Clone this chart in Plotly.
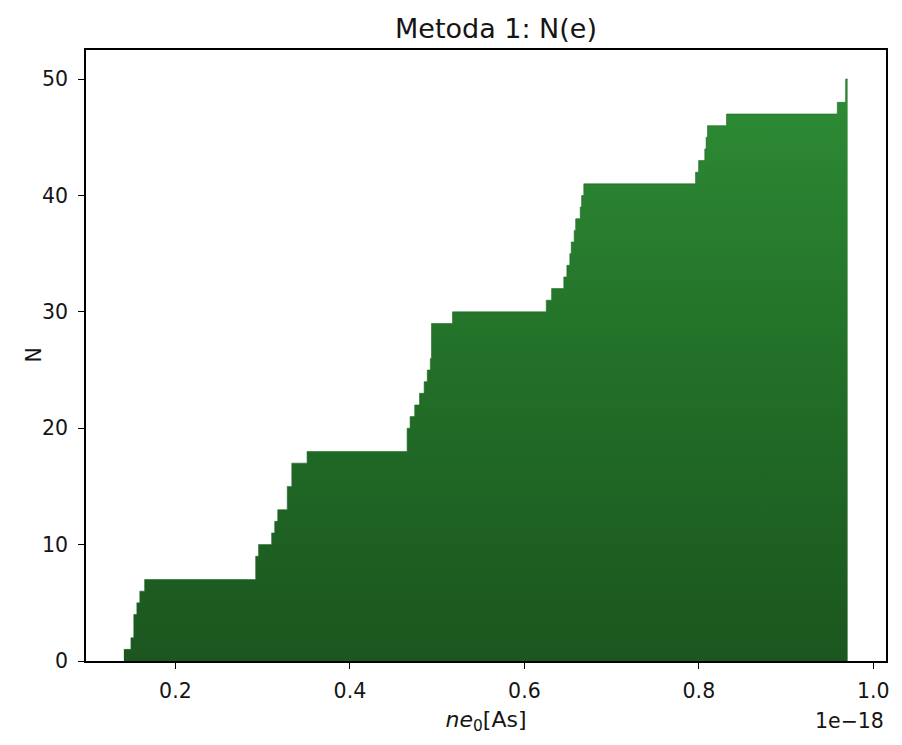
import plotly.graph_objects as go

# Step function N(e): e in units of 1e-18 As where N reaches the given value
e_steps = [0.1409, 0.1490, 0.1523, 0.1558, 0.1592, 0.1647,
           0.2920, 0.2953, 0.3103, 0.3138, 0.3173, 0.3282, 0.3334, 0.3509,
           0.4656, 0.4690, 0.4743, 0.4798, 0.4851, 0.4887, 0.4922, 0.4935, 0.5176,
           0.6251, 0.6312, 0.6452, 0.6487, 0.6521, 0.6537, 0.6571, 0.6588, 0.6640, 0.6656, 0.6681,
           0.7962, 0.7997, 0.8068, 0.8083, 0.8099, 0.8317,
           0.9587, 0.9682, 0.9705]
N_steps = [1, 2, 4, 5, 6, 7,
           9, 10, 11, 12, 13, 15, 17, 18,
           20, 21, 22, 23, 24, 25, 26, 29, 30,
           31, 32, 33, 34, 35, 36, 37, 38, 39, 40, 41,
           42, 43, 44, 45, 46, 47,
           48, 50, 50]

x_ticks = [0.2, 0.4, 0.6, 0.8, 1.0]
x_tick_labels = ["0.2", "0.4", "0.6", "0.8", "1.0"]
y_ticks = [0, 10, 20, 30, 40, 50]

font_family = "DejaVu Sans"
txt = "#151515"

W, H = 886, 729

fig = go.Figure()
fig.add_trace(go.Scatter(
    x=e_steps, y=N_steps, mode="lines",
    line=dict(shape="hv", width=0.6, color="#1f6a24"),
    fill="tozeroy",
    fillgradient=dict(type="vertical",
                      colorscale=[[0, "#1b561e"], [0.5, "#226f28"], [1, "#2e8c35"]]),
    hoverinfo="skip", showlegend=False,
))

fig.update_layout(
    width=W, height=H,
    paper_bgcolor="white", plot_bgcolor="white",
    margin=dict(l=78, r=8, t=42, b=76, autoexpand=False),
    font=dict(family=font_family, color=txt, size=20.5),
    title=dict(text="Metoda 1: N(e)", x=488 / W, xanchor="center",
               y=1 - 21 / H, yanchor="middle", yref="container",
               font=dict(size=27, color=txt)),
    showlegend=False,
)
fig.update_xaxes(
    range=[0.0975, 1.0145], tickvals=x_ticks, ticktext=x_tick_labels,
    automargin=False, ticklabeloverflow="allow",
    showgrid=False, zeroline=False,
    showline=True, linecolor="black", linewidth=1.6, mirror=True,
    ticks="outside", ticklen=6, tickwidth=1.4, tickcolor="black",
    ticklabelstandoff=5,
    title=dict(text="<i>ne</i><sub>0</sub>[As]", standoff=9,
               font=dict(size=22, color=txt)),
)
fig.update_yaxes(
    range=[0, 52.5], tickvals=y_ticks,
    automargin=False, ticklabeloverflow="allow",
    showgrid=False, zeroline=False,
    showline=True, linecolor="black", linewidth=1.6, mirror=True,
    ticks="outside", ticklen=6, tickwidth=1.4, tickcolor="black",
    ticklabelstandoff=6,
)
fig.add_annotation(
    text="N", xref="paper", yref="paper", x=0, y=0.5,
    xanchor="center", yanchor="middle", xshift=-53, textangle=-90,
    showarrow=False, font=dict(size=20.5, color=txt),
)
fig.add_annotation(
    text="1e\u221218", xref="paper", yref="paper", x=1.0, y=0,
    xanchor="right", yanchor="middle", yshift=-60, showarrow=False,
    font=dict(size=20.5, color=txt),
)

fig.write_html("out.html")
